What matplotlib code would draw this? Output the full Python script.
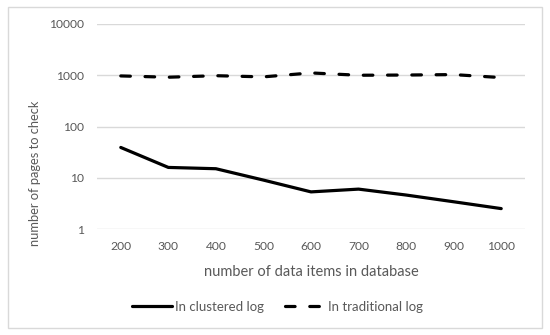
import matplotlib
matplotlib.use("Agg")

import numpy as np
import matplotlib.pyplot as plt
from matplotlib.patches import Rectangle
from matplotlib.ticker import FixedLocator, FixedFormatter, NullLocator

# Data
items = [200, 300, 400, 500, 600, 700, 800, 900, 1000]
clustered = [39, 15.9, 15, 9.0, 5.3, 6.0, 4.6, 3.4, 2.5]
traditional = [970, 915, 980, 930, 1110, 1000, 1010, 1030, 900]
y_ticks = [1, 10, 100, 1000, 10000]

plt.rcParams['font.family'] = ['Lato', 'DejaVu Sans']

W, H = 550, 335
fig = plt.figure(figsize=(W / 100, H / 100), dpi=100)

# Outer chart border
fig.patches.append(Rectangle((8 / W, 1 - 328 / H), 534 / W, 321 / H,
                             transform=fig.transFigure, fill=False,
                             edgecolor="#d9d9d9", linewidth=1.0))

ax = fig.add_axes([97 / W, 1 - 229 / H, 428 / W, 205 / H])

x = np.arange(len(items))
ax.plot(x, clustered, color="black", linewidth=2.3, solid_capstyle="round",
        label="In clustered log")
ax.plot(x, traditional, color="black", linewidth=2.3, dashes=(3.0, 4.6),
        dash_capstyle="round", label="In traditional log")

ax.set_yscale("log")
ax.set_ylim(1, 10000)
ax.set_xlim(-0.5, len(items) - 0.5)
ax.yaxis.set_major_locator(FixedLocator(y_ticks))
ax.yaxis.set_major_formatter(FixedFormatter([str(t) for t in y_ticks]))
ax.yaxis.set_minor_locator(NullLocator())
ax.set_xticks(x)
ax.set_xticklabels([str(v) for v in items])

for s in ax.spines.values():
    s.set_visible(False)
ax.grid(axis="y", color="#d9d9d9", linewidth=1.0)
ax.set_axisbelow(True)
ax.tick_params(axis="both", length=0, labelsize=8.7, labelcolor="#595959")
ax.tick_params(axis="y", pad=9.3)
ax.tick_params(axis="x", pad=8.5)

ax.set_xlabel("number of data items in database", fontsize=10.5,
              color="#595959")
ax.xaxis.set_label_coords(0.5, -(265 - 229) / 205)
ax.set_ylabel("number of pages to check", fontsize=9.3, color="#595959")
ax.yaxis.set_label_coords(-(97 - 41) / 428, (229 - 173) / 205)

ax.legend(loc="center", bbox_to_anchor=(0.505, 1 - 307 / H),
          bbox_transform=fig.transFigure, ncol=2, frameon=False,
          fontsize=9.5, labelcolor="#595959", handlelength=3.0,
          handletextpad=0.25, columnspacing=1.6)

fig.savefig("out.png", dpi=100)
